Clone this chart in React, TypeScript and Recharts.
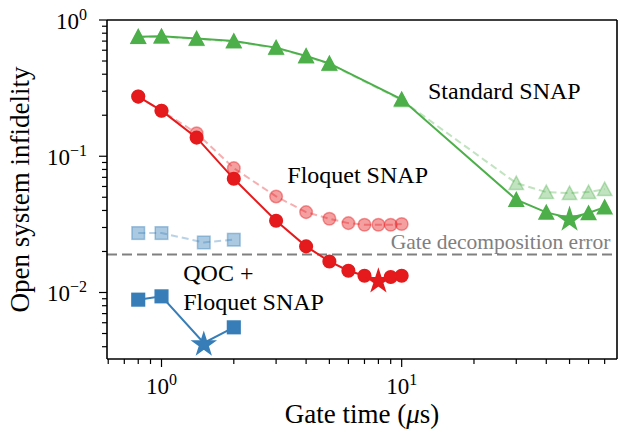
import { LineChart, Line, XAxis, YAxis, ReferenceLine, ReferenceDot } from "recharts";

const GREEN = "#4daf4a";
const RED = "#e41a1c";
const BLUE = "#377eb8";
const GREY = "#808080";
const FONT = "'Liberation Serif', 'DejaVu Serif', serif";

// axis limits (log-log)
const XMIN = 0.593;
const XMAX = 78.8;
const YMIN = 0.00325;
const YMAX = 1;

const X_TICKS = [0.6, 0.7, 0.8, 0.9, 1, 2, 3, 4, 5, 6, 7, 8, 9, 10, 20, 30, 40, 50, 60, 70];
const Y_TICKS = [
  0.004, 0.005, 0.006, 0.007, 0.008, 0.009, 0.01,
  0.02, 0.03, 0.04, 0.05, 0.06, 0.07, 0.08, 0.09, 0.1,
  0.2, 0.3, 0.4, 0.5, 0.6, 0.7, 0.8, 0.9, 1,
];

// Standard SNAP
const STD_T = [0.8, 1, 1.4, 2, 3, 4, 5, 10, 30, 40, 50, 60, 70];
const STD_BEST = [0.755, 0.76, 0.73, 0.7, 0.627, 0.545, 0.48, 0.262, 0.048, 0.0387, 0.0352, 0.0383, 0.0423];
const STD_PLAIN = [0.75, 0.755, 0.725, 0.695, 0.622, 0.54, 0.475, 0.258, 0.0635, 0.0546, 0.0537, 0.0546, 0.0574];
const STD_STAR = 50;

// Floquet SNAP
const FLQ_T = [0.8, 1, 1.4, 2, 3, 4, 5, 6, 7, 8, 9, 10];
const FLQ_BEST = [0.274, 0.216, 0.137, 0.0683, 0.0336, 0.0218, 0.0169, 0.01445, 0.01327, 0.0124, 0.013, 0.01327];
const FLQ_PLAIN = [0.274, 0.216, 0.1476, 0.0818, 0.0507, 0.0389, 0.0348, 0.0323, 0.0314, 0.0314, 0.0314, 0.0318];
const FLQ_STAR = 8;

// QOC + Floquet SNAP
const QOC_T = [0.8, 1, 1.5, 2];
const QOC_BEST = [0.00886, 0.00937, 0.00426, 0.00555];
const QOC_PLAIN = [0.0273, 0.0273, 0.0233, 0.0244];
const QOC_STAR = 1.5;

const GATE_ERR = 0.019;

const zip = (xs: number[], ys: number[]) => xs.map((x, i) => ({ x, y: ys[i] }));

const isMajor = (v: number) => Math.abs(Math.log10(v) - Math.round(Math.log10(v))) < 1e-6;
const expText = (v: number) => {
  const e = Math.round(Math.log10(v));
  return e < 0 ? "\u2212" + Math.abs(e) : String(e);
};

function XTick(props: any) {
  const { x, y, payload } = props;
  const major = isMajor(payload.value);
  return (
    <g>
      <line x1={x} x2={x} y1={y} y2={y + (major ? 8 : 5)} stroke="#000" strokeWidth={1.2} />
      {major && (
        <text x={x} y={y + 35} textAnchor="middle" fontSize={23} fill="#000" fontFamily={FONT}>
          <tspan>10</tspan>
          <tspan dy={-9} fontSize={16}>{expText(payload.value)}</tspan>
        </text>
      )}
    </g>
  );
}

function YTick(props: any) {
  const { x, y, payload } = props;
  const major = isMajor(payload.value);
  return (
    <g>
      <line x1={x} x2={x - (major ? 8 : 5)} y1={y} y2={y} stroke="#000" strokeWidth={1.2} />
      {major && (
        <text x={x - 20} y={y + 9} textAnchor="end" fontSize={23} fill="#000" fontFamily={FONT}>
          <tspan>10</tspan>
          <tspan dy={-9} fontSize={16}>{expText(payload.value)}</tspan>
        </text>
      )}
    </g>
  );
}

function starPoints(cx: number, cy: number, R: number) {
  const r = R * 0.382;
  const pts: string[] = [];
  for (let i = 0; i < 10; i++) {
    const a = -Math.PI / 2 + (i * Math.PI) / 5;
    const rr = i % 2 === 0 ? R : r;
    pts.push(`${cx + rr * Math.cos(a)},${cy + rr * Math.sin(a) + 1.5}`);
  }
  return pts.join(" ");
}

function marker(shape: "circle" | "tri" | "square", color: string, alpha: number, starX?: number) {
  return (p: any) => {
    const { cx, cy, payload, index } = p;
    if (cx == null || cy == null) return <g key={index} />;
    const common = {
      fill: color,
      fillOpacity: alpha,
      stroke: color,
      strokeOpacity: alpha,
      strokeWidth: 1.5,
    };
    if (starX !== undefined && payload.x === starX) {
      return <polygon key={index} points={starPoints(cx, cy, 11.5)} {...common} strokeLinejoin="miter" />;
    }
    if (shape === "circle") return <circle key={index} cx={cx} cy={cy} r={6.3} {...common} />;
    if (shape === "square")
      return <rect key={index} x={cx - 6.3} y={cy - 6.3} width={12.6} height={12.6} {...common} />;
    return (
      <polygon
        key={index}
        points={`${cx},${cy - 7} ${cx - 7.2},${cy + 6.5} ${cx + 7.2},${cy + 6.5}`}
        {...common}
      />
    );
  };
}

function Note({ x, y, text, size = 24, color = "#000", anchor = "start" }: any) {
  return (
    <ReferenceDot
      x={x}
      y={y}
      r={0}
      shape={(p: any) => (
        <text x={p.cx} y={p.cy} fontSize={size} fill={color} textAnchor={anchor} fontFamily={FONT}>
          {text}
        </text>
      )}
    />
  );
}

export default function App() {
  return (
    <div style={{ position: "absolute", left: 0, top: 0, background: "#fff" }}>
      <LineChart
        width={619}
        height={433}
        margin={{ top: 20, right: 2, bottom: 0, left: 0 }}
        style={{ fontFamily: FONT }}
      >
        <XAxis
          type="number"
          dataKey="x"
          scale="log"
          domain={[XMIN, XMAX]}
          allowDataOverflow
          ticks={X_TICKS}
          interval={0}
          tick={<XTick />}
          tickLine={false}
          tickSize={0}
          tickMargin={0}
          axisLine={{ stroke: "#000", strokeWidth: 1.6 }}
          height={74}
          label={{
            content: (p: any) => {
              const vb = p.viewBox;
              return (
                <text x={vb.x + vb.width / 2} y={vb.y + 64} textAnchor="middle" fontSize={27} fill="#000" fontFamily={FONT}>
                  Gate time (<tspan fontStyle="italic">μ</tspan>s)
                </text>
              );
            },
          }}
        />
        <YAxis
          type="number"
          dataKey="y"
          scale="log"
          domain={[YMIN, YMAX]}
          allowDataOverflow
          ticks={Y_TICKS}
          interval={0}
          tick={<YTick />}
          tickLine={false}
          tickSize={0}
          tickMargin={0}
          axisLine={{ stroke: "#000", strokeWidth: 1.6 }}
          width={107}
          label={{
            content: (p: any) => {
              const vb = p.viewBox;
              const cy = vb.y + vb.height / 2;
              return (
                <text x={29} y={cy} transform={`rotate(-90, 29, ${cy})`} textAnchor="middle" fontSize={27} fill="#000" fontFamily={FONT}>
                  Open system infidelity
                </text>
              );
            },
          }}
        />
        <ReferenceLine y={YMAX} stroke="#000" strokeWidth={1.6} />
        <ReferenceLine x={XMAX} stroke="#000" strokeWidth={1.6} />
        <ReferenceLine y={GATE_ERR} stroke={GREY} strokeWidth={2} strokeDasharray="10 5" />

        <Line data={zip(STD_T, STD_PLAIN)} dataKey="y" stroke={GREEN} strokeOpacity={0.35} strokeWidth={2} strokeDasharray="7 4" dot={marker("tri", GREEN, 0.35)} activeDot={false} isAnimationActive={false} />
        <Line data={zip(FLQ_T, FLQ_PLAIN)} dataKey="y" stroke={RED} strokeOpacity={0.35} strokeWidth={2} strokeDasharray="7 4" dot={marker("circle", RED, 0.42)} activeDot={false} isAnimationActive={false} />
        <Line data={zip(QOC_T, QOC_PLAIN)} dataKey="y" stroke={BLUE} strokeOpacity={0.35} strokeWidth={2} strokeDasharray="7 4" dot={marker("square", BLUE, 0.42)} activeDot={false} isAnimationActive={false} />

        <Line data={zip(STD_T, STD_BEST)} dataKey="y" stroke={GREEN} strokeWidth={2} dot={marker("tri", GREEN, 1, STD_STAR)} activeDot={false} isAnimationActive={false} />
        <Line data={zip(FLQ_T, FLQ_BEST)} dataKey="y" stroke={RED} strokeWidth={2} dot={marker("circle", RED, 1, FLQ_STAR)} activeDot={false} isAnimationActive={false} />
        <Line data={zip(QOC_T, QOC_BEST)} dataKey="y" stroke={BLUE} strokeWidth={2} dot={marker("square", BLUE, 1, QOC_STAR)} activeDot={false} isAnimationActive={false} />

        {Note({ x: 12.87, y: 0.2636, text: "Standard SNAP" })}
        {Note({ x: 3.34, y: 0.0641, text: "Floquet SNAP" })}
        {Note({ x: 73.96, y: 0.02084, text: "Gate decomposition error", size: 21.5, color: GREY, anchor: "end" })}
        {Note({ x: 1.232, y: 0.01206, text: "QOC +" })}
        {Note({ x: 1.232, y: 0.00748, text: "Floquet SNAP" })}
      </LineChart>
    </div>
  );
}
